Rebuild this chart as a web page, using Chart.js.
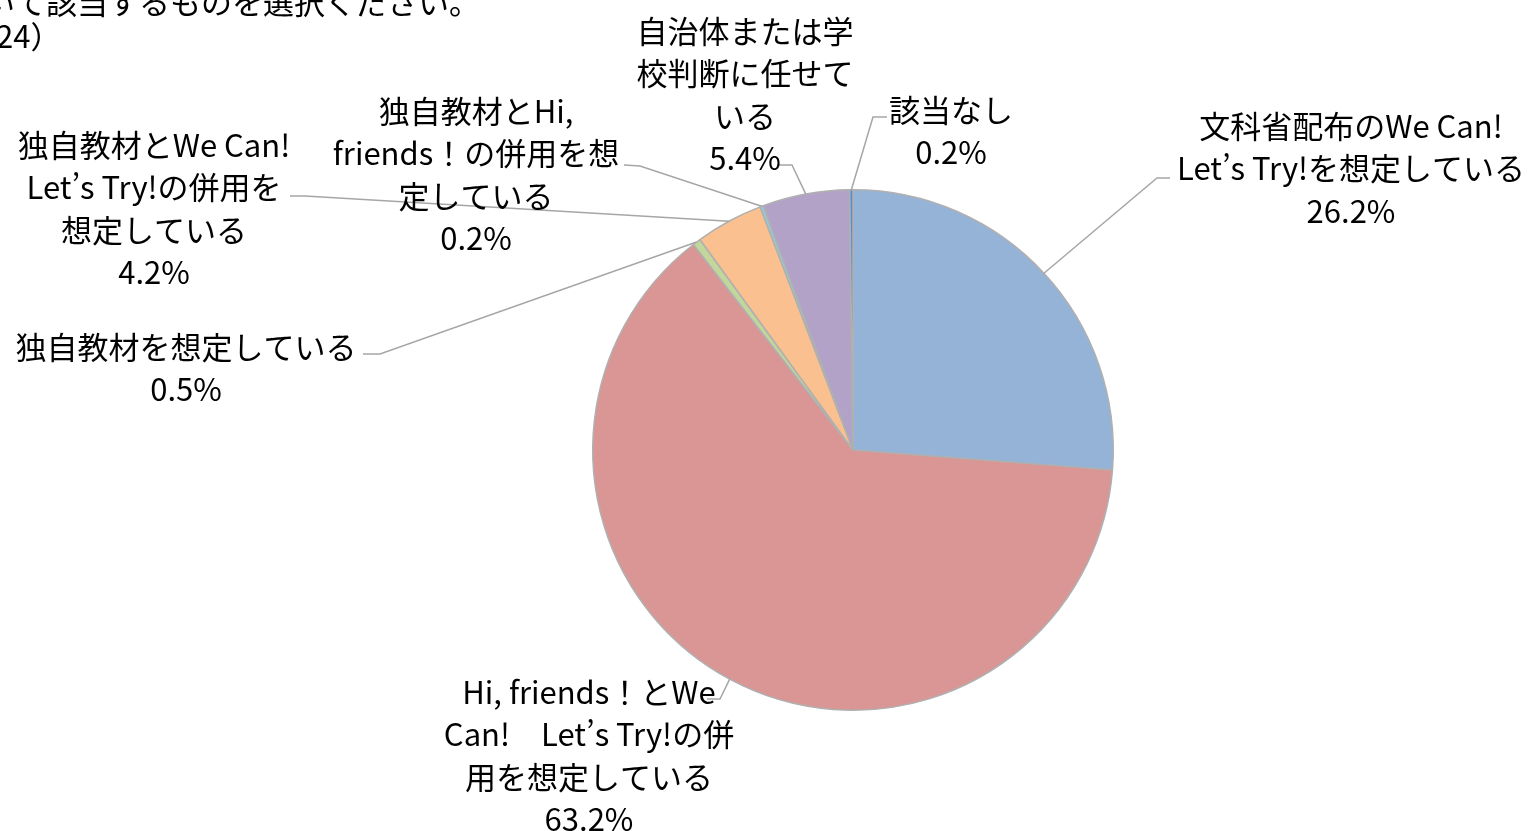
<!DOCTYPE html>
<html lang="ja">
<head>
<meta charset="utf-8">
<title>教材の想定</title>
<script src="https://cdn.jsdelivr.net/npm/chart.js@4.4.1/dist/chart.umd.min.js"></script>
<style>
  html, body { margin: 0; padding: 0; background: #ffffff; overflow: hidden; }
  #wrap { position: relative; width: 1534px; height: 831px; }
</style>
</head>
<body>
<div id="wrap"><canvas id="materialPie"></canvas></div>
<script>
// categories (wrapped the way the labels are shown)
const categories = [
  ["文科省配布のWe Can!", "Let’s Try!を想定している"],
  ["Hi, friends！とWe", "Can!　Let’s Try!の併", "用を想定している"],
  ["独自教材を想定している"],
  ["独自教材とWe Can!", "Let’s Try!の併用を", "想定している"],
  ["独自教材とHi,", "friends！の併用を想", "定している"],
  ["自治体または学", "校判断に任せて", "いる"],
  ["該当なし"]
];
// share of answers in %
const shares = [26.2, 63.2, 0.5, 4.2, 0.2, 5.4, 0.2];
const sliceColors = ["#95B3D7", "#D99694", "#C3D69B", "#FAC090", "#93CDDD", "#B3A2C7", "#558ED5"];
const titleLines = ["いて該当するものを選択ください。", "24）"];

// label placement: text centre x, first line centre y, leader elbow and end
const labelPos = [
  { cx: 1351, cy: 126, elbow: [1157, 178], end: [1170, 178] },
  { cx: 589, cy: 692, elbow: [720, 699], end: [707, 699] },
  { cx: 186, cy: 347, elbow: [380, 354], end: [363, 354] },
  { cx: 154, cy: 145, elbow: [305, 196], end: [290, 196] },
  { cx: 476, cy: 111, elbow: [640, 166], end: [624, 165] },
  { cx: 745, cy: 31, elbow: [792, 165], end: [777, 165] },
  { cx: 951, cy: 110, elbow: [873, 117], end: [887, 117] }
];
const lineGap = 42.5;
const labelFont = '31px "Noto Sans CJK JP", sans-serif';

const sliceLabels = {
  id: "sliceLabels",
  afterDatasetsDraw(chart) {
    const ctx = chart.ctx;
    const meta = chart.getDatasetMeta(0);
    ctx.save();
    // leader lines
    meta.data.forEach((arc, i) => {
      const p = arc.getProps(["x", "y", "startAngle", "endAngle", "outerRadius"], true);
      const mid = (p.startAngle + p.endAngle) / 2;
      const ax = p.x + Math.cos(mid) * p.outerRadius;
      const ay = p.y + Math.sin(mid) * p.outerRadius;
      const pos = labelPos[i];
      ctx.beginPath();
      ctx.moveTo(ax, ay);
      ctx.lineTo(pos.elbow[0], pos.elbow[1]);
      ctx.lineTo(pos.end[0], pos.end[1]);
      ctx.strokeStyle = "#A6A6A6";
      ctx.lineWidth = 1.5;
      ctx.stroke();
    });
    // label text
    ctx.fillStyle = "#000000";
    ctx.font = labelFont;
    ctx.textAlign = "center";
    ctx.textBaseline = "middle";
    meta.data.forEach((arc, i) => {
      const pos = labelPos[i];
      const lines = categories[i].concat([shares[i].toFixed(1) + "%"]);
      lines.forEach((t, k) => ctx.fillText(t, pos.cx, pos.cy + k * lineGap));
    });
    // cut-off title in the corner
    ctx.textAlign = "left";
    ctx.font = '31px "Noto Sans CJK JP", sans-serif';
    ctx.fillText(titleLines[0], -16, 2);
    ctx.fillText(titleLines[1], -4, 36);
    ctx.restore();
  }
};

new Chart(document.getElementById("materialPie"), {
  type: "pie",
  data: {
    labels: categories,
    datasets: [{
      data: shares,
      backgroundColor: sliceColors,
      borderColor: "#B0B0B0",
      borderWidth: 1.5
    }]
  },
  options: {
    responsive: true,
    maintainAspectRatio: false,
    animation: false,
    layout: { padding: { left: 592, right: 420, top: 189, bottom: 120 } },
    plugins: {
      legend: { display: false },
      tooltip: { enabled: false }
    }
  },
  plugins: [sliceLabels]
});
</script>
</body>
</html>
